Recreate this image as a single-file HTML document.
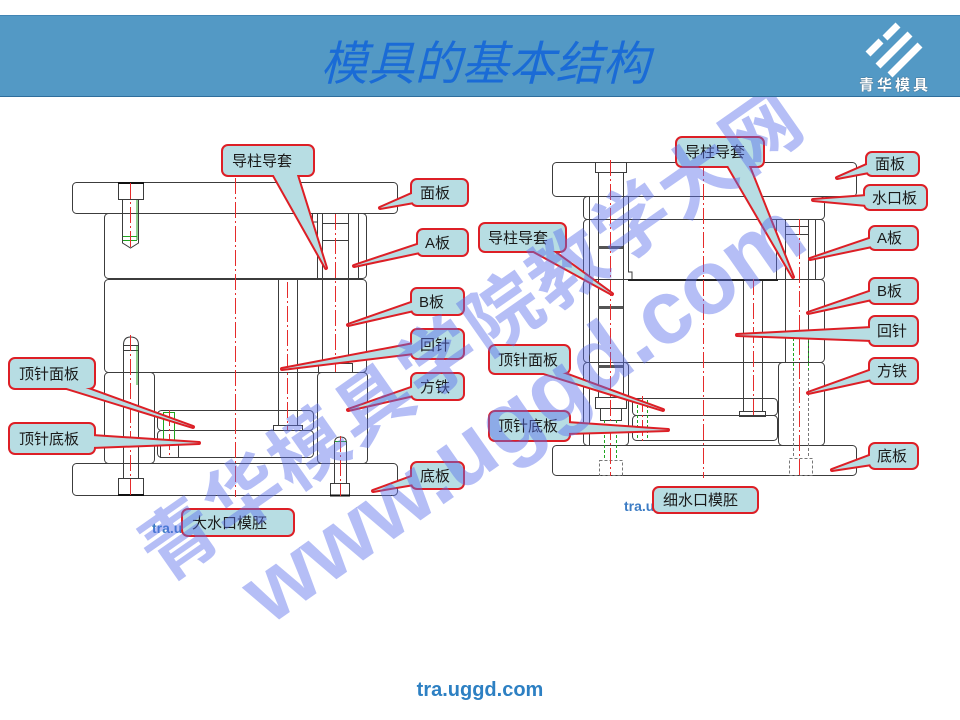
<!DOCTYPE html>
<html><head><meta charset="utf-8">
<style>
html,body{margin:0;padding:0;background:#fff;}
body{width:960px;height:720px;position:relative;overflow:hidden;font-family:"Liberation Sans","Noto Sans CJK SC",sans-serif;}
#hdr{position:absolute;left:0;top:15px;width:960px;height:80px;background:#5399c5;border-top:1px solid #4285b4;border-bottom:1px solid #2f6e9c;z-index:5;}
#title{position:absolute;left:290px;width:390px;top:20px;text-align:center;font-size:47px;line-height:47px;font-style:italic;color:#1a6bd6;font-family:"Noto Sans CJK SC",sans-serif;white-space:nowrap;}
#logotxt{position:absolute;left:848px;width:94px;top:61px;text-align:center;font-size:15px;line-height:16px;color:#fff;letter-spacing:3px;font-weight:bold;font-family:"Noto Sans CJK SC",sans-serif;text-shadow:0 0 1px #234;}
#svg{position:absolute;left:0;top:0;z-index:1;}
.wm{position:absolute;transform:translate(-50%,-50%) rotate(-35deg);white-space:nowrap;color:rgba(90,110,235,0.45);font-weight:bold;z-index:3;line-height:1;}
#foot{position:absolute;left:0;width:960px;top:680px;text-align:center;font-size:20px;line-height:20px;font-weight:bold;color:#2d80c3;font-family:"Liberation Sans",sans-serif;}
</style></head>
<body>
<div id="hdr">
  <div id="title">模具的基本结构</div>
  <svg style="position:absolute;left:0;top:-15px" width="960" height="96">
    <g stroke="#fff" stroke-width="7" stroke-linecap="butt">
      <line x1="885" y1="37" x2="898" y2="24"/>
      <line x1="868" y1="53" x2="881" y2="40"/>
      <line x1="878" y1="65" x2="910" y2="33"/>
      <line x1="890" y1="74" x2="920" y2="44"/>
    </g>
  </svg>
  <div id="logotxt">青华模具</div>
</div>

<svg id="svg" width="960" height="720" viewBox="0 0 960 720">
  <!-- LEFT MOLD -->
  <g fill="none" stroke="#3c3c3c" stroke-width="1">
    <rect x="72.5" y="182.5" width="325" height="31" rx="4"/>
    <rect x="104.5" y="213.5" width="262" height="65" rx="4"/>
    <rect x="104.5" y="279.5" width="262" height="93" rx="4"/>
    <rect x="104.5" y="372.5" width="50" height="91" rx="4"/>
    <rect x="317.5" y="372.5" width="50" height="91" rx="4"/>
    <rect x="157.5" y="410.5" width="156" height="20" rx="4"/>
    <rect x="157.5" y="430.5" width="156" height="27" rx="4"/>
    <rect x="72.5" y="463.5" width="325" height="32" rx="4"/>
    <rect x="278.5" y="279.5" width="19" height="146"/>
    <rect x="273.5" y="425.5" width="29" height="5"/>
    <path d="M317.5 214V278 M322.5 214V363 M348.5 214V363 M358.5 214V278 M322 223.5H348 M322 240.5H348 M312.5 214V222H317"/>
    <rect x="318.5" y="363.5" width="34" height="9"/>
    <rect x="118.5" y="182.5" width="25" height="17"/>
    <path d="M122.5 199V243L130.5 248L138.5 243V199"/>
    <path d="M123.5 478V345Q123.5 337 130.5 337Q138.5 337 138.5 345V478 M123 345.5H138 M123 350.5H138"/>
    <rect x="118.5" y="478.5" width="25" height="16"/>
    <rect x="160.5" y="443.5" width="18" height="14"/>
    <path d="M334.5 483V443Q334.5 437 340.5 437Q346.5 437 346.5 443V483"/>
    <rect x="330.5" y="483.5" width="19" height="12"/>
  </g>
  <path d="M118 495H144 M330 495.5H350 M118 183H144" stroke="#111" stroke-width="2"/>
  <path d="M137 200V240 M123 236.5H137 M123 240.5H137 M137 346V385 M163.5 412V443 M174.5 412V443 M163 412.5H175 M335 441.5H346" stroke="#1fa51f" stroke-width="1" fill="none"/>
  <path d="M235.5 178V497 M287.5 282V430 M335.5 214V372 M130.5 183V250 M130.5 335V497 M169.5 410V458 M340.5 436V496" stroke="#e52b2b" stroke-width="1" stroke-dasharray="16,3,2,3" fill="none"/>

  <!-- RIGHT MOLD -->
  <g fill="none" stroke="#3c3c3c" stroke-width="1">
    <rect x="552.5" y="162.5" width="304" height="34" rx="4"/>
    <rect x="583.5" y="196.5" width="241" height="23" rx="4"/>
    <rect x="583.5" y="219.5" width="241" height="60" rx="4"/>
    <rect x="583.5" y="279.5" width="241" height="83" rx="4"/>
    <rect x="583.5" y="362.5" width="45" height="83" rx="4"/>
    <rect x="778.5" y="362.5" width="46" height="83" rx="4"/>
    <rect x="632.5" y="398.5" width="145" height="17" rx="4"/>
    <rect x="632.5" y="415.5" width="145" height="25" rx="4"/>
    <rect x="552.5" y="445.5" width="304" height="30" rx="4"/>
    <path d="M628.5 197V272H632V280 M776.5 220V280 M589.5 197V445"/>
    <rect x="595.5" y="162.5" width="31" height="10"/>
    <path d="M598.5 172V397 M623.5 172V397"/>
    <rect x="595.5" y="397.5" width="31" height="11"/>
    <rect x="600.5" y="408.5" width="21" height="12"/>
    <path d="M785.5 219V362 M808.5 219V362 M815.5 219V279 M785 226.5H808 M785 234.5H808"/>
    <rect x="743.5" y="279.5" width="19" height="132"/>
    <rect x="739.5" y="411.5" width="26" height="5"/>
    <path d="M793.5 338V458 M808.5 338V458" stroke-dasharray="3,2" stroke="#777"/>
    <rect x="789.5" y="458.5" width="23" height="17" stroke-dasharray="3,2" stroke="#777"/>
    <rect x="599.5" y="460.5" width="23" height="15" stroke-dasharray="3,2" stroke="#777"/>
  </g>
  <path d="M628 280H778" stroke="#222" stroke-width="2"/>
  <path d="M598 247.5H623 M598 307.5H623 M598 366.5H623" stroke="#555" stroke-width="3"/>
  <path d="M793.5 338V370 M808.5 338V370 M604.5 420V460 M616.5 420V460 M637.5 400V440 M647.5 400V440" stroke="#1fa51f" stroke-width="1" stroke-dasharray="3,2" fill="none"/>
  <path d="M703.5 160V478 M610.5 160V476 M799.5 219V476 M753.5 279V418 M642.5 396V442" stroke="#e52b2b" stroke-width="1" stroke-dasharray="16,3,2,3" fill="none"/>

  <!-- tra.u texts -->
  <text x="152" y="533" font-size="14" font-weight="bold" fill="#3c7cc4" font-family="Liberation Sans, sans-serif">tra.uggd</text>
  <text x="624" y="511" font-size="14" font-weight="bold" fill="#3c7cc4" font-family="Liberation Sans, sans-serif">tra.uggd</text>

  <!-- LABEL strokes -->
  <g fill="none" stroke="#dd1f26" stroke-width="4" stroke-linejoin="round">
    <polygon points="272,172 326,268 296,172"/>
    <polygon points="414,193 380,208 414,202"/>
    <polygon points="420,244 354,266 420,252"/>
    <polygon points="414,302 348,325 414,310"/>
    <polygon points="414,344 282,369 414,353"/>
    <polygon points="414,387 348,410 414,395"/>
    <polygon points="414,476 373,491 414,484"/>
    <polygon points="60,386 193,427 80,386"/>
    <polygon points="92,436 199,443 92,447"/>
    <polygon points="727,164 793,277 748,164"/>
    <polygon points="869,164 837,178 869,172"/>
    <polygon points="867,196 813,200 867,205"/>
    <polygon points="872,238 810,259 872,246"/>
    <polygon points="872,291 808,313 872,299"/>
    <polygon points="872,328 737,335 872,340"/>
    <polygon points="872,370 808,393 872,379"/>
    <polygon points="872,455 832,470 872,464"/>
    <polygon points="530,249 612,294 550,249"/>
    <polygon points="537,371 663,410 557,371"/>
    <polygon points="567,423 668,430 567,433"/>
    <rect x="223" y="146" width="90" height="29" rx="5"/>
    <rect x="412" y="180" width="55" height="25" rx="5"/>
    <rect x="418" y="230" width="49" height="25" rx="5"/>
    <rect x="412" y="289" width="51" height="25" rx="5"/>
    <rect x="412" y="330" width="51" height="28" rx="5"/>
    <rect x="412" y="374" width="51" height="25" rx="5"/>
    <rect x="412" y="463" width="51" height="25" rx="5"/>
    <rect x="10" y="359" width="84" height="29" rx="5"/>
    <rect x="10" y="424" width="84" height="29" rx="5"/>
    <rect x="183" y="510" width="110" height="25" rx="5"/>
    <rect x="677" y="138" width="86" height="28" rx="5"/>
    <rect x="867" y="153" width="51" height="22" rx="5"/>
    <rect x="865" y="186" width="61" height="23" rx="5"/>
    <rect x="870" y="227" width="47" height="22" rx="5"/>
    <rect x="870" y="279" width="47" height="24" rx="5"/>
    <rect x="870" y="317" width="47" height="28" rx="5"/>
    <rect x="870" y="359" width="47" height="24" rx="5"/>
    <rect x="870" y="444" width="47" height="24" rx="5"/>
    <rect x="480" y="224" width="85" height="27" rx="5"/>
    <rect x="490" y="346" width="79" height="27" rx="5"/>
    <rect x="490" y="412" width="79" height="28" rx="5"/>
    <rect x="654" y="488" width="103" height="24" rx="5"/>
  </g>
  <!-- LABEL fills -->
  <g fill="#b7dde3" stroke="none">
    <rect x="223" y="146" width="90" height="29" rx="5"/>
    <rect x="412" y="180" width="55" height="25" rx="5"/>
    <rect x="418" y="230" width="49" height="25" rx="5"/>
    <rect x="412" y="289" width="51" height="25" rx="5"/>
    <rect x="412" y="330" width="51" height="28" rx="5"/>
    <rect x="412" y="374" width="51" height="25" rx="5"/>
    <rect x="412" y="463" width="51" height="25" rx="5"/>
    <rect x="10" y="359" width="84" height="29" rx="5"/>
    <rect x="10" y="424" width="84" height="29" rx="5"/>
    <rect x="183" y="510" width="110" height="25" rx="5"/>
    <rect x="677" y="138" width="86" height="28" rx="5"/>
    <rect x="867" y="153" width="51" height="22" rx="5"/>
    <rect x="865" y="186" width="61" height="23" rx="5"/>
    <rect x="870" y="227" width="47" height="22" rx="5"/>
    <rect x="870" y="279" width="47" height="24" rx="5"/>
    <rect x="870" y="317" width="47" height="28" rx="5"/>
    <rect x="870" y="359" width="47" height="24" rx="5"/>
    <rect x="870" y="444" width="47" height="24" rx="5"/>
    <rect x="480" y="224" width="85" height="27" rx="5"/>
    <rect x="490" y="346" width="79" height="27" rx="5"/>
    <rect x="490" y="412" width="79" height="28" rx="5"/>
    <rect x="654" y="488" width="103" height="24" rx="5"/>
    <polygon points="272,172 326,268 296,172"/>
    <polygon points="414,193 380,208 414,202"/>
    <polygon points="420,244 354,266 420,252"/>
    <polygon points="414,302 348,325 414,310"/>
    <polygon points="414,344 282,369 414,353"/>
    <polygon points="414,387 348,410 414,395"/>
    <polygon points="414,476 373,491 414,484"/>
    <polygon points="60,386 193,427 80,386"/>
    <polygon points="92,436 199,443 92,447"/>
    <polygon points="727,164 793,277 748,164"/>
    <polygon points="869,164 837,178 869,172"/>
    <polygon points="867,196 813,200 867,205"/>
    <polygon points="872,238 810,259 872,246"/>
    <polygon points="872,291 808,313 872,299"/>
    <polygon points="872,328 737,335 872,340"/>
    <polygon points="872,370 808,393 872,379"/>
    <polygon points="872,455 832,470 872,464"/>
    <polygon points="530,249 612,294 550,249"/>
    <polygon points="537,371 663,410 557,371"/>
    <polygon points="567,423 668,430 567,433"/>
  </g>
  <!-- LABEL texts -->
  <g font-size="15" fill="#1a1a1a" font-family="Liberation Sans, Noto Sans CJK SC, sans-serif">
    <text x="232" y="166">导柱导套</text>
    <text x="420" y="198">面板</text>
    <text x="425" y="248">A板</text>
    <text x="419" y="307">B板</text>
    <text x="420" y="350">回针</text>
    <text x="420" y="392">方铁</text>
    <text x="420" y="481">底板</text>
    <text x="19" y="379">顶针面板</text>
    <text x="19" y="444">顶针底板</text>
    <text x="192" y="528">大水口模胚</text>
    <text x="685" y="157">导柱导套</text>
    <text x="875" y="169">面板</text>
    <text x="872" y="203">水口板</text>
    <text x="877" y="243">A板</text>
    <text x="877" y="296">B板</text>
    <text x="877" y="336">回针</text>
    <text x="877" y="376">方铁</text>
    <text x="877" y="461">底板</text>
    <text x="488" y="243">导柱导套</text>
    <text x="498" y="365">顶针面板</text>
    <text x="498" y="431">顶针底板</text>
    <text x="663" y="505">细水口模胚</text>
  </g>
</svg>

<div class="wm" style="left:468px;top:330px;font-size:76px;letter-spacing:3px;font-family:'Noto Sans CJK SC',sans-serif;">青华模具学院教学大网</div>
<div class="wm" style="left:523px;top:412px;font-size:90px;font-family:'Liberation Sans',sans-serif;">www.uggd.com</div>

<div id="foot">tra.uggd.com</div>
</body></html>
